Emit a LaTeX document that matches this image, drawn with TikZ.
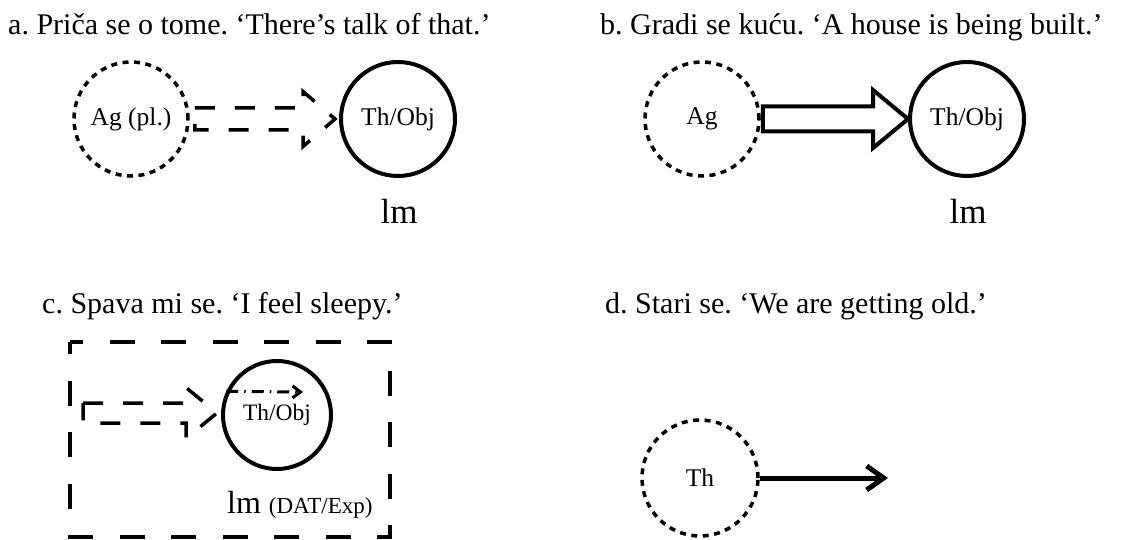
\documentclass[tikz,border=0pt]{standalone}
\usepackage{fontspec}
\setmainfont{Liberation Serif}
\usetikzlibrary{arrows.meta,calc}
\frenchspacing
\begin{document}
\begin{tikzpicture}[x=1pt,y=-1pt,
  title/.style={anchor=base west, inner sep=0pt, font=\fontsize{30}{32}\selectfont},
  role/.style={circle, inner sep=0pt, minimum size=114pt, font=\fontsize{25.5}{28}\selectfont},
  dotted role/.style={role, draw, line width=3.5pt, dash pattern=on 6pt off 5.5pt},
  solid role/.style={role, draw, line width=4pt},
  lmlabel/.style={anchor=base, inner sep=0pt, font=\fontsize{35}{38}\selectfont},
  block/.style={draw, line width=4pt, line join=miter},
  dashed block/.style={block, line width=3.5pt, dash pattern=on 20pt off 20pt},
  frame/.style={draw, line width=4pt, dash pattern=on 25pt off 26.5pt, dash phase=12pt},
]
\useasboundingbox (0,0) rectangle (1129,540);

% ---------- a ----------
\node[title] (ta) at (8,35) {a. Priča se o tome. ‘There’s talk of that.’};
\node[dotted role] (aga) at (131,119) {Ag (pl.)};
\node[solid role] (tha) at (398,119) {Th/Obj};
\node[lmlabel] (lma) at (399,223) {lm};
\draw[dashed block]
  let \p1=($(aga.east)+(5,0)$), \p2=($(tha.west)+(-4,0)$) in
  (\x1,\y1+11pt) -- (\x2-32pt,\y1+11pt) -- (\x2-32pt,\y1+27.5pt) -- (\x2,\y1)
  -- (\x2-32pt,\y1-27.5pt) -- (\x2-32pt,\y1-11pt) -- (\x1,\y1-11pt) -- cycle;

% ---------- b ----------
\node[title] (tb) at (600,35) {b. Gradi se kuću. ‘A house is being built.’};
\node[dotted role] (agb) at (702,119) {Ag};
\node[solid role] (thb) at (967,119) {Th/Obj};
\node[lmlabel] (lmb) at (968,223) {lm};
\draw[block]
  let \p1=($(agb.east)+(2,0)$), \p2=(thb.west) in
  (\x1,\y1+12.5pt) -- (\x2-35pt,\y1+12.5pt) -- (\x2-35pt,\y1+29pt) -- (\x2,\y1)
  -- (\x2-35pt,\y1-29pt) -- (\x2-35pt,\y1-12.5pt) -- (\x1,\y1-12.5pt) -- cycle;

% ---------- c ----------
\node[title] (tc) at (42,313) {c. Spava mi se. ‘I feel sleepy.’};
\draw[frame] (70,342) -- (390,342) -- (390,537) -- (70,537) -- cycle;
\node[solid role, minimum size=108pt, font=\fontsize{23.5}{26}\selectfont] (thc) at (277,415) {Th/Obj};
\node[anchor=base west, inner sep=0pt] (lmc) at (227,513)
  {\fontsize{32}{34}\selectfont lm \fontsize{23}{25}\selectfont(DAT/Exp)};
\coordinate (expc) at (83,413);
\draw[dashed block]
  let \p1=(expc), \p2=($(thc.west)+(-4,0)$) in
  (\x1,\y1+10pt) -- (\x2-31pt,\y1+10pt) -- (\x2-31pt,\y1+25.5pt) -- (\x2,\y1)
  -- (\x2-31pt,\y1-25.5pt) -- (\x2-31pt,\y1-10pt) -- (\x1,\y1-10pt) -- cycle;
\coordinate (endc) at (303,392);
\draw[line width=3pt, dash pattern=on 12pt off 6pt on 1.5pt off 6pt,
      -{Straight Barb[length=8pt,width=12pt]}] (thc.155) -- (endc);

% ---------- d ----------
\node[title] (td) at (605,313) {d. Stari se. ‘We are getting old.’};
\node[dotted role, minimum size=116pt] (thd) at (700,478) {Th};
\coordinate (endd) at (888,478);
\draw[line width=5pt, -{Straight Barb[length=17pt,width=24pt]}] (thd.east) -- (endd);
\end{tikzpicture}
\end{document}
